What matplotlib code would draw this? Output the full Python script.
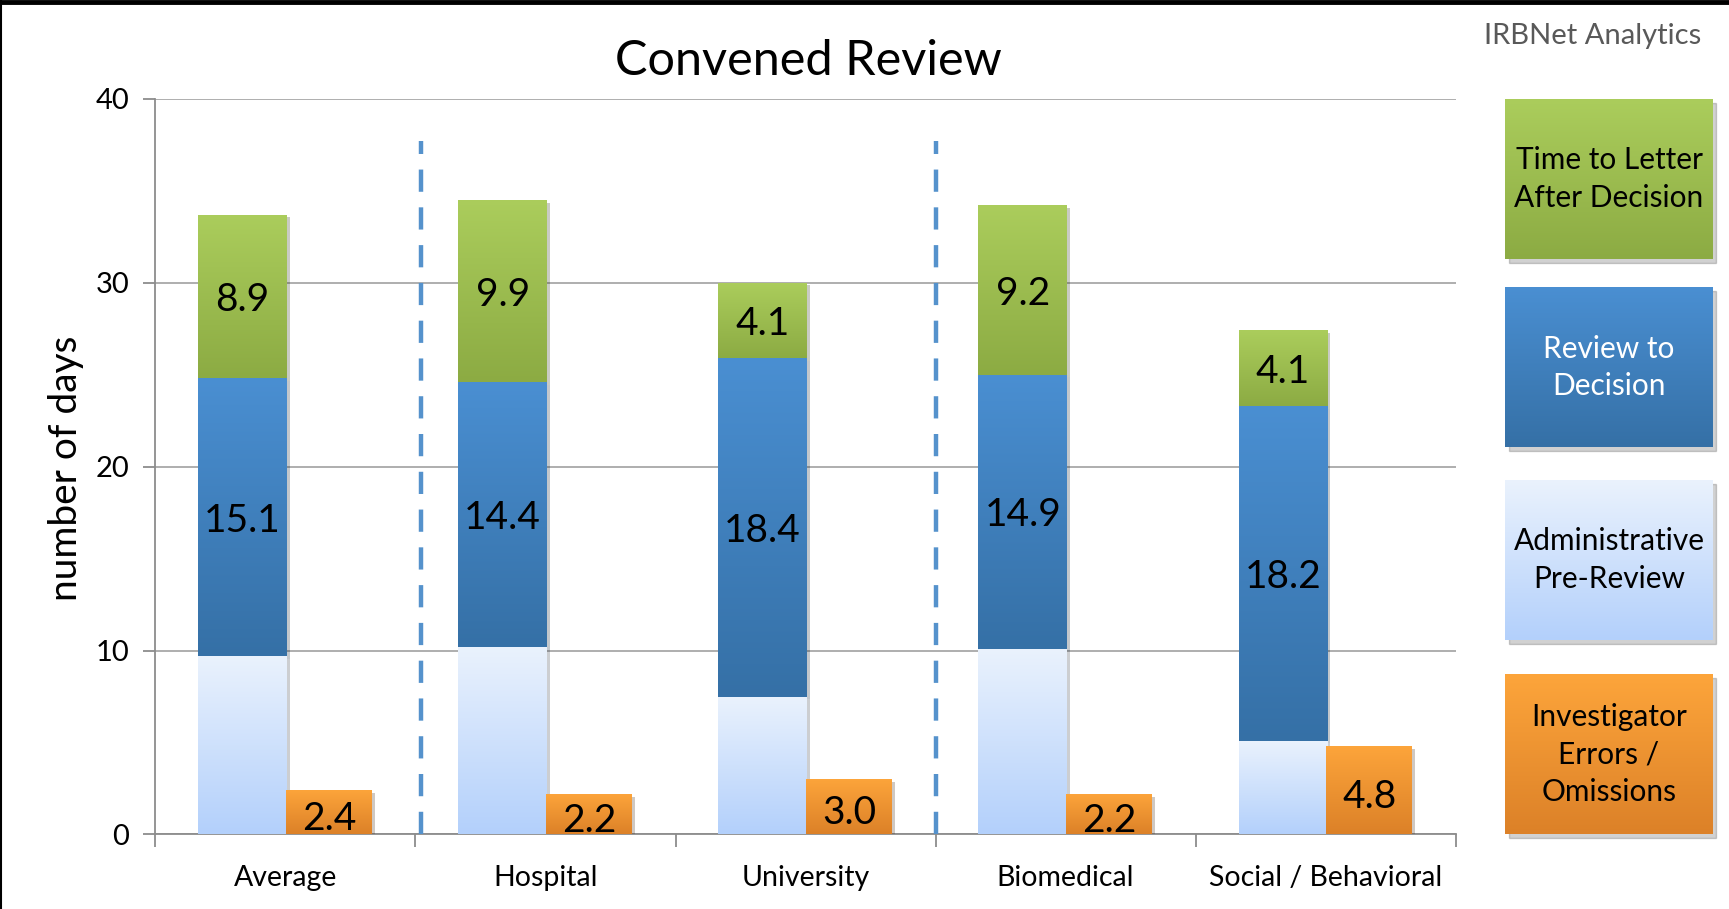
import numpy as np
import matplotlib
matplotlib.use("Agg")
import matplotlib.pyplot as plt
import matplotlib.patheffects as pe
from matplotlib.colors import LinearSegmentedColormap
from matplotlib.patches import Rectangle
from matplotlib.lines import Line2D

# ---- data ----
categories = ["Average", "Hospital", "University", "Biomedical", "Social / Behavioral"]
admin_pre_review = [9.7, 10.2, 7.5, 10.1, 5.1]
review_to_decision = [15.1, 14.4, 18.4, 14.9, 18.2]
time_to_letter = [8.9, 9.9, 4.1, 9.2, 4.1]
investigator_errors = [2.4, 2.2, 3.0, 2.2, 4.8]
separator_pos = [0.52, 2.5]
separator_top = 37.7
legend_labels = ["Time to Letter\nAfter Decision", "Review to\nDecision",
                 "Administrative\nPre-Review", "Investigator\nErrors /\nOmissions"]

# gradient colours (top, bottom)
c_green = ("#abcd5c", "#8cab43")
c_blue = ("#4a8fd2", "#3570a6")
c_light = ("#eaf2fd", "#b3d0fb")
c_orange = ("#fda53b", "#dc8128")

plt.rcParams["font.family"] = ["Lato", "DejaVu Sans"]

fig = plt.figure(figsize=(17.29, 9.09), dpi=100)
ax = fig.add_axes([0.0899, 0.082, 0.752, 0.8094])

grad = np.linspace(0, 1, 256).reshape(-1, 1)


def grad_fill(axis, patch, cols, zorder):
    x, y = patch.get_x(), patch.get_y()
    w, h = patch.get_width(), patch.get_height()
    cmap = LinearSegmentedColormap.from_list("g", [cols[1], cols[0]])
    im = axis.imshow(grad, extent=[x, x + w, y, y + h], origin="lower",
                     aspect="auto", cmap=cmap, zorder=zorder, interpolation="bicubic")
    im.set_clip_path(patch)


x = np.arange(len(categories))
w_stack = 0.34
w_err = 0.33
off_stack = -0.165
off_err = 0.168
shadow = [pe.SimplePatchShadow(offset=(2, -2), alpha=0.25), pe.Normal()]

admin = np.array(admin_pre_review)
review = np.array(review_to_decision)
letter = np.array(time_to_letter)

layers = [
    (admin, np.zeros(len(x)), c_light, None),
    (review, admin, c_blue, review_to_decision),
    (letter, admin + review, c_green, time_to_letter),
]
for vals, base, cols, labels in layers:
    bars = ax.bar(x + off_stack, vals, w_stack, bottom=base, color=cols[1],
                  edgecolor="none", zorder=3, path_effects=shadow)
    for b in bars:
        grad_fill(ax, b, cols, 4)
    if labels is not None:
        for b, v in zip(bars, labels):
            ax.text(b.get_x() + b.get_width() / 2, b.get_y() + b.get_height() / 2 - 0.2,
                    f"{v:.1f}", ha="center", va="center", fontsize=28, zorder=6)

bars = ax.bar(x + off_err, investigator_errors, w_err, color=c_orange[1],
              edgecolor="none", zorder=3, path_effects=shadow)
for b, v in zip(bars, investigator_errors):
    grad_fill(ax, b, c_orange, 4)
    ax.text(b.get_x() + b.get_width() / 2, b.get_height() / 2 - 0.35, f"{v:.1f}",
            ha="center", va="center", fontsize=28, zorder=6)

for sx in separator_pos:
    ax.plot([sx, sx], [0, separator_top], color="#5592cc", lw=3.2,
            linestyle=(0, (5, 3.5)), zorder=5, solid_capstyle="butt")

ax.set_xlim(-0.5, len(categories) - 0.5)
ax.set_ylim(0, 40)
ax.set_yticks([0, 10, 20, 30, 40])
ax.set_xticks(x)
ax.set_xticklabels(categories, fontsize=20.5)
ax.set_xticks(np.arange(len(categories) + 1) - 0.5, minor=True)
ax.tick_params(axis="x", which="major", length=0, pad=22)
ax.tick_params(axis="x", which="minor", length=9, color="#8c8c8c", width=1.3)
ax.tick_params(axis="y", length=9, color="#8c8c8c", width=1.3, labelsize=21, pad=10)
ax.grid(axis="y", color="#a8a8a8", lw=1.3, zorder=0)
ax.set_axisbelow(True)
for s in ["top", "right"]:
    ax.spines[s].set_visible(False)
for s in ["left", "bottom"]:
    ax.spines[s].set_color("#8c8c8c")
    ax.spines[s].set_linewidth(1.3)

fig.text(0.4675, 0.933, "Convened Review", ha="center", va="center", fontsize=35)
fig.text(0.038, 0.4845, "number of days", ha="center", va="center",
         rotation=90, fontsize=28)
fig.text(0.921, 0.96, "IRBNet Analytics", ha="center", va="center",
         fontsize=21, color="#595959")

# legend boxes
leg_cols = [c_green, c_blue, c_light, c_orange]
leg_txt_col = ["black", "white", "black", "black"]
leg_y = [0.715, 0.508, 0.296, 0.082]
leg_h = 0.176
for lab, cols, tc, y0 in zip(legend_labels, leg_cols, leg_txt_col, leg_y):
    fig.add_artist(Rectangle((0.8706 + 0.002, y0 - 0.004), 0.12, leg_h,
                             transform=fig.transFigure, color="black", alpha=0.18,
                             zorder=-1))
    lax = fig.add_axes([0.8706, y0, 0.12, leg_h])
    cmap = LinearSegmentedColormap.from_list("g", [cols[1], cols[0]])
    lax.imshow(grad, extent=[0, 1, 0, 1], origin="lower", aspect="auto",
               cmap=cmap, interpolation="bicubic")
    lax.set_xlim(0, 1)
    lax.set_ylim(0, 1)
    lax.axis("off")
    lax.text(0.5, 0.5, lab, ha="center", va="center", fontsize=21.5, color=tc,
             linespacing=1.4)

# frame on top / left
fig.add_artist(Line2D([0, 1], [0.998, 0.998], transform=fig.transFigure,
                      color="black", lw=3.5))
fig.add_artist(Line2D([0.0006, 0.0006], [0, 1], transform=fig.transFigure,
                      color="black", lw=1.5))

fig.savefig("out.png", dpi=100)
